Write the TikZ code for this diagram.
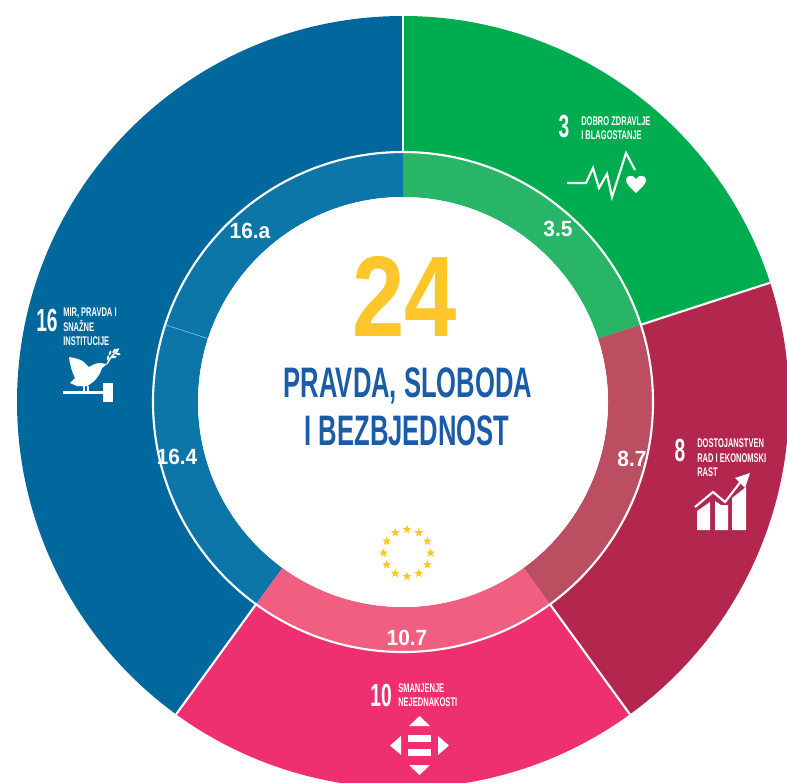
\documentclass[tikz,border=0pt]{standalone}
\usepackage{fontspec}
\setmainfont{Liberation Sans}
\newfontfamily\headfont[FakeStretch=.82]{Liberation Sans}
\newfontfamily\titlefont[FakeStretch=.6]{Liberation Sans}
\newfontfamily\labelfont[FakeStretch=.95]{Liberation Sans}
\newfontfamily\smallfont[FakeStretch=.6]{Liberation Sans}
\usetikzlibrary{calc,shapes.geometric}
\definecolor{sdgblue}{HTML}{00689D}
\definecolor{sdggreen}{HTML}{00AC50}
\definecolor{sdgred}{HTML}{B3274F}
\definecolor{sdgpink}{HTML}{EF3070}
\definecolor{ringblue}{HTML}{0C76A8}
\definecolor{ringgreen}{HTML}{28B567}
\definecolor{ringred}{HTML}{BB4E61}
\definecolor{ringpink}{HTML}{F15F80}
\definecolor{titleblue}{HTML}{1A5CA8}
\definecolor{numyellow}{HTML}{FFC62C}

\begin{document}
\begin{tikzpicture}[x=.75pt,y=.75pt,
    ring label/.style={inner sep=0pt,text=white,font=\fontsize{16.5}{16.5}\selectfont\labelfont\bfseries},
    goal num/.style={inner sep=0pt,text=white,font=\fontsize{24}{24}\selectfont\smallfont\bfseries},
    goal text/.style={inner sep=0pt,anchor=west,align=left,text=white,font=\fontsize{9.4}{10.8}\selectfont\smallfont\bfseries},
    title text/.style={inner sep=0pt,text=titleblue,font=\fontsize{32}{35}\selectfont\titlefont\bfseries},
    eu star/.style={star,star points=5,star point ratio=2.4,fill=numyellow,inner sep=0pt,minimum size=7pt},
    icon line/.style={draw=white,line width=1.6pt,line join=miter}]
    \useasboundingbox (0,0) rectangle (787,-782);
    \clip (0,0) rectangle (787,-782);

    \begin{scope}[shift={(403,-402)}]
    % outer sectors
    \fill[sdgblue] (90:386) arc[start angle=90,end angle=234,radius=386] -- (234:250) arc[start angle=234,end angle=90,radius=250] -- cycle;
    \fill[sdggreen] (90:386) arc[start angle=90,end angle=18,radius=386] -- (18:250) arc[start angle=18,end angle=90,radius=250] -- cycle;
    \fill[sdgred] (18:386) arc[start angle=18,end angle=-54,radius=386] -- (-54:250) arc[start angle=-54,end angle=18,radius=250] -- cycle;
    \fill[sdgpink] (-54:386) arc[start angle=-54,end angle=-126,radius=386] -- (-126:250) arc[start angle=-126,end angle=-54,radius=250] -- cycle;
    % inner ring
    \fill[ringblue] (90:250) arc[start angle=90,end angle=234,radius=250] -- (234:205) arc[start angle=234,end angle=90,radius=205] -- cycle;
    \fill[ringgreen] (90:250) arc[start angle=90,end angle=18,radius=250] -- (18:205) arc[start angle=18,end angle=90,radius=205] -- cycle;
    \fill[ringred] (18:250) arc[start angle=18,end angle=-54,radius=250] -- (-54:205) arc[start angle=-54,end angle=18,radius=205] -- cycle;
    \fill[ringpink] (-54:250) arc[start angle=-54,end angle=-126,radius=250] -- (-126:205) arc[start angle=-126,end angle=-54,radius=205] -- cycle;
    % white dividers
    \draw[white,line width=1.6pt] (0,0) circle[radius=250];
    \fill[white] (0,0) circle[radius=205];
    \draw[white,line width=1.6pt] (90:250) -- (90:386);
    \draw[white,line width=1.6pt] (18:250) -- (18:386);
    \draw[white,line width=1.6pt] (-54:250) -- (-54:386);
    \draw[white,line width=1.6pt] (-126:250) -- (-126:386);
    \draw[white!60!ringblue,line width=.4pt] (162:205) -- (162:250);
    \end{scope}

    % centre
    \node[inner sep=0pt,text=numyellow,font=\fontsize{86}{86}\selectfont\headfont\bfseries] (num) at (405,-296) {24};
    \node[title text] (title1) at (408,-386) {PRAVDA, SLOBODA};
    \node[title text] (title2) at (407,-431) {I BEZBJEDNOST};
    \foreach \i in {1,...,12}
        \node[eu star] (s\i) at ($(407,-553)+(\i*30:23.5)$) {};

    % ring labels
    \node[ring label] (a16) at (250,-231) {16.a};
    \node[ring label] (a3) at (558,-229) {3.5};
    \node[ring label] (a8) at (632,-459) {8.7};
    \node[ring label] (a10) at (407,-638) {10.7};
    \node[ring label] (a164) at (177,-457) {16.4};

    % goal 3
    \node[goal num] (g3) at (564,-127) {3};
    \node[goal text] (t3) at (581,-128) {DOBRO ZDRAVLJE\\I BLAGOSTANJE};
    \draw[icon line] (567,-183) -- (586,-183) -- (593,-168) -- (599,-188) -- (607,-174) -- (612,-197) -- (626,-153) -- (635,-170);
    \fill[white] (636,-193) .. controls (630,-187) and (626,-184) .. (626,-180) .. controls (626,-175) and (633,-174) .. (636,-179) .. controls (639,-174) and (646,-175) .. (646,-180) .. controls (646,-184) and (642,-187) .. (636,-193) -- cycle;

    % goal 8
    \node[goal num] (g8) at (680,-450) {8};
    \node[goal text] (t8) at (697,-458) {DOSTOJANSTVEN\\RAD I EKONOMSKI\\ RAST};
    \fill[white] (697,-530) -- (697,-511) -- (710,-502) -- (710,-530) -- cycle;
    \fill[white] (715,-530) -- (715,-501) -- (721,-505) -- (728,-505) -- (728,-530) -- cycle;
    \fill[white] (732,-530) -- (732,-498) -- (746,-487) -- (746,-530) -- cycle;
    \draw[icon line] (695,-507) -- (713,-492) -- (725,-502) -- (742,-480);
    \fill[white] (750,-473) -- (735,-478) -- (745,-488) -- cycle;

    % goal 10
    \node[goal num] (g10) at (381,-695) {10};
    \node[goal text] (t10) at (398,-695) {SMANJENJE\\NEJEDNAKOSTI};
    \fill[white] (409,-726) -- (430,-726) -- (419.5,-716) -- cycle;
    \fill[white] (409,-765) -- (430,-765) -- (419.5,-775) -- cycle;
    \fill[white] (401,-736) -- (401,-755) -- (390,-745.5) -- cycle;
    \fill[white] (438,-736) -- (438,-755) -- (449,-745.5) -- cycle;
    \fill[white] (408,-735) rectangle (431,-742);
    \fill[white] (408,-749) rectangle (431,-756);

    % goal 16
    \node[goal num] (g16) at (47,-320) {16};
    \node[goal text] (t16) at (63,-327) {MIR, PRAVDA I\\SNA\v{Z}NE\\INSTITUCIJE};
    \fill[white] (69,-357) .. controls (75,-358) and (80,-359) .. (84,-362) -- (89,-367) .. controls (92,-365) and (96,-363) .. (100,-363) -- (107,-364) -- (102,-368) .. controls (100,-375) and (95,-382) .. (87,-386) -- (77,-386) -- (70,-383) -- (75,-378) .. controls (72,-372) and (70,-365) .. (69,-357) -- cycle;
    \draw[white,line width=.8pt] (84,-386) -- (84,-393) (88,-386) -- (88,-393);
    \draw[white,line width=1pt] (107,-364) .. controls (110,-358) and (114,-353) .. (118,-351);
    \foreach \a/\b/\t in {108/-358/80,110/-353/70,114/-351/60,114/-357/10,118/-354/-10,117/-350/30}
        \fill[white,rotate around={\t:(\a,\b)}] (\a,\b) ellipse[x radius=2.6,y radius=1.1];
    \draw[white,line width=2.4pt] (63,-392.5) -- (104,-392.5);
    \fill[white] (103,-383) rectangle (113,-402);
\end{tikzpicture}
\end{document}
